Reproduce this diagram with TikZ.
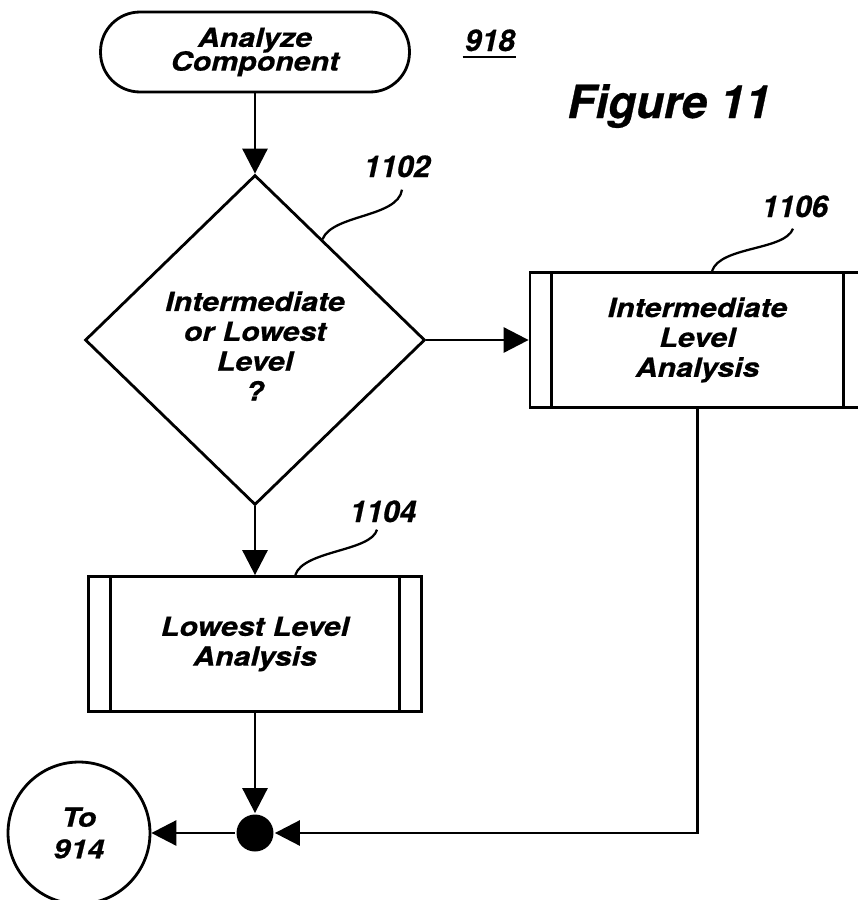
\documentclass[tikz,border=0pt]{standalone}
\usepackage{fontspec}
\setmainfont{TeX Gyre Heros}[FakeBold=0.6]
\newfontfamily\wordfont{TeX Gyre Heros}[FakeStretch=1.15,FakeBold=0.6]
\newcommand\mytightlines{\lineskiplimit=-6pt\relax}
\usetikzlibrary{shapes.geometric,arrows.meta,calc}
\begin{document}
\begin{tikzpicture}[x=0.02cm,y=-0.02cm,line width=1.6pt,
  words/.style={font={\wordfont\fontsize{15}{17}\selectfont\bfseries\itshape\mytightlines}, align=center},
  nums/.style={font={\fontsize{17}{19}\selectfont\bfseries\itshape}, inner sep=0pt, anchor=base},
  arr/.style={-{Triangle[length=0.5cm,width=0.5cm]}},
  leader/.style={line width=1.3pt},
  termbox/.style={draw, rectangle, rounded corners=0.79cm, minimum width=6.18cm, minimum height=1.6cm, align=center,
     font={\wordfont\fontsize{15}{13.5}\selectfont\bfseries\itshape\mytightlines}},
  decbox/.style={draw, diamond, minimum width=6.8cm, minimum height=6.6cm, inner sep=0pt},
  procbox/.style={draw, rectangle, minimum height=2.7cm, words},
  endcirc/.style={draw, circle, minimum size=2.84cm, inner sep=0pt, words, font={\wordfont\fontsize{15}{18}\selectfont\bfseries\itshape}},
  joindot/.style={fill, circle, minimum size=0.74cm, inner sep=0pt}]
\clip (0,0) rectangle (858,900);

% nodes
\node[termbox] (start) at (255,52) {Analyze\\Component};
\node[nums] (l918) at (490,51) {918};
\node[nums, font={\fontsize{26}{28}\selectfont\bfseries\itshape}] (fig) at (669,118) {Figure 11};
\node[decbox] (dec) at (255,340) {};
\node[words] (dectext) at (255,346) {Intermediate\\or Lowest\\Level\\?};
\node[nums] (l1102) at (397,177) {1102};
\node[procbox, minimum width=6.7cm] (b1106) at (697.5,340) {Intermediate\\Level\\Analysis};
\node[nums] (l1106) at (795,217) {1106};
\node[procbox, minimum width=6.66cm] (b1104) at (255,644) {Lowest Level\\Analysis};
\node[nums] (l1104) at (383,522) {1104};
\node[joindot] (dot) at (255,833) {};
\node[endcirc] (end) at (79,833) {To\\914};

% underline of 918
\draw[line width=1.2pt] ($(l918.base west)+(-1,6)$) -- ($(l918.base east)+(0,6)$);

% inner bands of the process boxes
\foreach \b in {b1104,b1106} {
  \draw ($(\b.north west)+(23,0)$) -- ($(\b.south west)+(23,0)$);
  \draw ($(\b.north east)+(-23,0)$) -- ($(\b.south east)+(-23,0)$);
}

% connectors
\draw[arr] (start) -- (dec);
\draw[arr] (dec) -- (b1106);
\draw[arr] (dec) -- (b1104);
\draw[arr] (b1104) -- (dot);
\draw[arr] (b1106.south) |- (dot);
\draw[arr] (dot) -- (end);

% leaders
\draw[leader] ($(l1102.south)+(5,11)$) .. controls +(-4,28) and +(10,-25) .. ($(dec.north)!0.394!(dec.east)$);
\draw[leader] ($(l1106.south)+(-2,10)$) .. controls +(-8,22) and +(8,-25) .. ($(b1106.north west)!0.543!(b1106.north east)$);
\draw[leader] ($(l1104.south)+(-6,6)$) .. controls +(-6,22) and +(8,-25) .. ($(b1104.north west)!0.62!(b1104.north east)$);
\end{tikzpicture}
\end{document}
